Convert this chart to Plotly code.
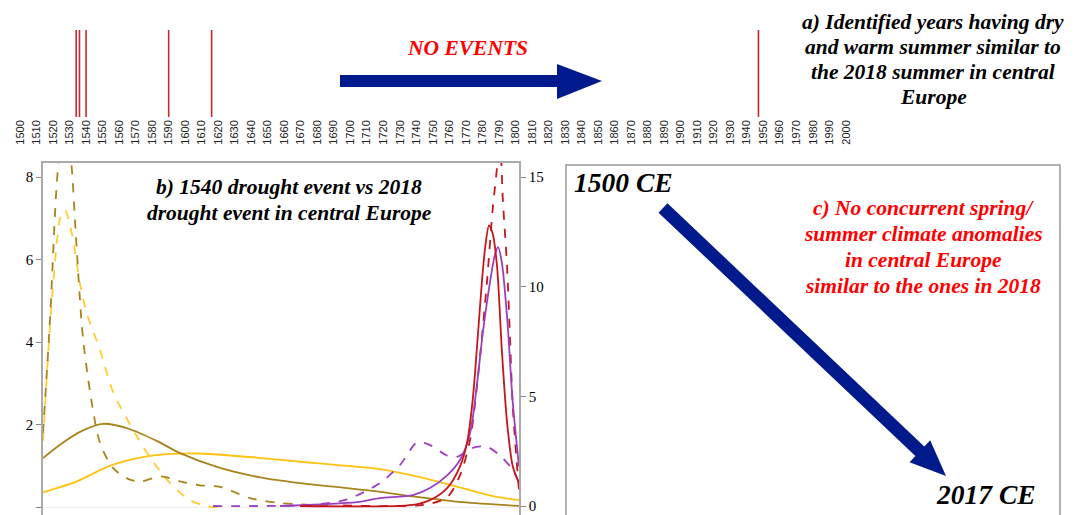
import math
import plotly.graph_objects as go

W, H = 1084, 515

# ---------------- data ----------------
decades = list(range(1500, 2001, 10))
event_years = [1534, 1536, 1540, 1590, 1616, 1947]

olive_solid_x = [0, 4, 8.4, 12.6, 18, 24, 28.8, 37.2, 45.6, 54, 63.9, 70.8, 77.7, 88.2, 100]
olive_solid_y = [1.19, 1.55, 1.86, 2.02, 1.9, 1.6, 1.31, 0.95, 0.72, 0.58, 0.46, 0.37, 0.26, 0.12, 0.03]

yellow_solid_x = [0, 7, 14, 20.4, 26.7, 33, 45, 54, 62, 70.8, 81.3, 88.2, 94.5, 100]
yellow_solid_y = [0.36, 0.62, 1.0, 1.2, 1.29, 1.3, 1.2, 1.1, 1.02, 0.92, 0.67, 0.46, 0.27, 0.17]

olive_dash_x = [0, 1.5, 2.9, 4.4, 5.9, 6.9, 8.4, 10.5, 12, 14.7, 18, 20.4, 23, 25.2, 29, 33, 37.2, 43.5, 49.8, 54, 60]
olive_dash_y = [1.8, 4.6, 7.85, 9.6, 8.4, 6.6, 4.1, 2.35, 1.55, 0.95, 0.68, 0.62, 0.7, 0.74, 0.62, 0.53, 0.49, 0.22, 0.1, 0.07, 0.03]

yellow_dash_x = [0, 1.5, 2.9, 3.6, 4.6, 6.1, 7.8, 9.2, 12, 14.7, 18.3, 22.5, 26.7, 30.9, 34.5, 37]
yellow_dash_y = [1.6, 4.45, 6.4, 7.0, 7.2, 6.6, 5.4, 4.7, 3.8, 2.8, 2.0, 1.2, 0.58, 0.17, 0.02, 0.0]

purple_dash_x = [35.7, 45, 56.7, 63.9, 70.8, 75, 78.6, 81.3, 84.9, 87, 90.3, 93.3, 96, 98.7, 100]
purple_dash_y = [0.0, 0.0, 0.05, 0.3, 1.05, 1.87, 2.9, 2.78, 2.3, 2.24, 2.65, 2.7, 2.3, 1.65, 1.05]

purple_solid_x = [49.8, 66, 70.8, 77.7, 81.3, 84.9, 87.6, 89.7, 91.2, 92.4, 93.9, 95, 95.6, 96.4, 97.5, 98.7, 100]
purple_solid_y = [0.0, 0.18, 0.36, 0.5, 0.82, 1.4, 2.1, 3.3, 5.6, 7.9, 10.2, 11.5, 11.8, 11.1, 8.6, 4.7, 1.8]

red_solid_x = [54, 77.7, 81.3, 84.9, 87.6, 89.1, 90.3, 91.4, 92.2, 92.9, 93.7, 94.5, 95.4, 96.4, 97.5, 98.7, 100]
red_solid_y = [0.0, 0.05, 0.27, 0.82, 1.8, 2.9, 4.9, 7.9, 10.2, 11.8, 12.8, 12.4, 10.9, 7.1, 3.8, 1.8, 1.05]

red_dash_x = [63, 79.8, 84.9, 87.6, 89.7, 91.8, 93.3, 94.5, 95.4, 95.9, 96.6, 97.5, 98.1, 98.7, 100]
red_dash_y = [0.03, 0.05, 0.4, 1.4, 3.0, 6.8, 10.3, 13.6, 15.5, 17.5, 14, 10.9, 7.7, 4.5, 0.7]

left_ticks = [0, 2, 4, 6, 8]
right_ticks = [0, 5, 10, 15]

text_a = ["a) Identified years having dry", "and warm summer similar to",
          "the 2018 summer in central", "Europe"]
text_b = ["b) 1540 drought event vs 2018", "drought event in central Europe"]
text_c = ["c) No concurrent spring/", "summer climate anomalies",
          "in central Europe", "similar to the ones in 2018"]

# ---------------- helpers ----------------
def px(x):
    return x / W

def py(y):
    return 1 - y / H

def path_from(points):
    return "M " + " L ".join(f"{px(x):.5f},{py(y):.5f}" for x, y in points) + " Z"

OLIVE = "#A8841C"
YELLOW = "#FFC20E"
YELLOW_D = "#FFCC33"
PURPLE = "#9B3FBF"
RED = "#C4161C"
NAVY = "#001A8C"
SERIF = "Liberation Serif"

fig = go.Figure()

# ---------------- panel a: timeline ----------------
ex, ey = [], []
for yr in event_years:
    ex += [yr, yr, None]
    ey += [0, 1, None]
fig.add_trace(go.Scatter(x=ex, y=ey, mode="lines", line=dict(color="#C8282D", width=1.6),
                         xaxis="x3", yaxis="y3", showlegend=False, hoverinfo="skip"))

# ---------------- panel b: curves ----------------
def add_curve(xs, ys, color, dash, axis_y):
    fig.add_trace(go.Scatter(x=xs, y=ys, mode="lines",
                             line=dict(color=color, width=1.8, dash=dash, shape="spline", smoothing=0.8),
                             xaxis="x", yaxis=axis_y, showlegend=False, hoverinfo="skip"))

add_curve(yellow_solid_x, yellow_solid_y, YELLOW, "solid", "y")
add_curve(olive_solid_x, olive_solid_y, OLIVE, "solid", "y")
add_curve(yellow_dash_x, yellow_dash_y, YELLOW_D, "dash", "y")
add_curve(olive_dash_x, olive_dash_y, OLIVE, "dash", "y")
add_curve(purple_dash_x, purple_dash_y, PURPLE, "dash", "y2")
add_curve(red_dash_x, red_dash_y, RED, "dash", "y2")
add_curve(purple_solid_x, purple_solid_y, PURPLE, "solid", "y2")
add_curve(red_solid_x, red_solid_y, RED, "solid", "y2")

fig.update_layout(
    width=W, height=H,
    margin=dict(l=0, r=0, t=0, b=0, autoexpand=False),
    paper_bgcolor="white", plot_bgcolor="white",
    showlegend=False,
    xaxis=dict(domain=[px(43), px(519)], range=[0, 100], side="top", showline=True, linecolor="#AAAAAA",
               linewidth=1.5, showticklabels=False, ticks="", showgrid=False, zeroline=False,
               anchor="y", automargin=False),
    yaxis=dict(domain=[0, py(163)], range=[-0.19, 8.34], showline=True, linecolor="#AAAAAA", linewidth=1.5,
               ticks="outside", ticklen=5, tickcolor="#888888", tickvals=left_ticks, showgrid=False,
               zeroline=True, zerolinecolor="#EEEEEE", zerolinewidth=1, automargin=False,
               tickfont=dict(family=SERIF, size=15, color="black"), anchor="x"),
    yaxis2=dict(overlaying="y", side="right", range=[-0.41, 15.64], showline=True, linecolor="#AAAAAA",
                linewidth=1.5, ticks="outside", ticklen=5, tickcolor="#888888", tickvals=right_ticks,
                showgrid=False, zeroline=False, automargin=False,
                tickfont=dict(family=SERIF, size=15, color="black"), anchor="x"),
    xaxis3=dict(domain=[0, 1], range=[1500 - 20 / 1.652, 1500 + (W - 20) / 1.652], tickvals=decades,
                tickangle=-90, tickfont=dict(family="Liberation Sans", size=11, color="#222222"),
                showline=False, ticks="", showgrid=False, zeroline=False, anchor="y3", automargin=False),
    yaxis3=dict(domain=[py(117), py(30)], range=[0, 1], visible=False, anchor="x3"),
)

# ---------------- arrows & frames ----------------
shapes = []
shapes.append(dict(type="path", xref="paper", yref="paper",
                   path=path_from([(340, 75), (557, 75), (557, 64), (602, 81), (557, 99), (557, 87), (340, 87)]),
                   fillcolor=NAVY, line=dict(width=0)))
S = (663, 208)
T = (946, 476)
dx, dy = T[0] - S[0], T[1] - S[1]
L = math.hypot(dx, dy)
ux, uy = dx / L, dy / L
nx, ny = -uy, ux
hw, hh, hl = 6.5, 15, 36
B = (T[0] - ux * hl, T[1] - uy * hl)
pts = [
    (S[0] + nx * hw, S[1] + ny * hw),
    (B[0] + nx * hw, B[1] + ny * hw),
    (B[0] + nx * hh, B[1] + ny * hh),
    T,
    (B[0] - nx * hh, B[1] - ny * hh),
    (B[0] - nx * hw, B[1] - ny * hw),
    (S[0] - nx * hw, S[1] - ny * hw),
]
shapes.append(dict(type="path", xref="paper", yref="paper", path=path_from(pts),
                   fillcolor=NAVY, line=dict(width=0)))
shapes.append(dict(type="rect", xref="paper", yref="paper", x0=px(566), x1=px(1060), y0=-0.05, y1=py(165),
                   line=dict(color="#999999", width=1.5), fillcolor="rgba(0,0,0,0)"))
fig.update_layout(shapes=shapes)

# ---------------- texts ----------------
def ann(text, x, y, size, color="black", xanchor="center"):
    fig.add_annotation(text=f"<b><i>{text}</i></b>", x=px(x), y=py(y), xref="paper", yref="paper",
                       showarrow=False, xanchor=xanchor, yanchor="middle", align="center",
                       font=dict(family=SERIF, size=size, color=color))

ann("NO EVENTS", 467, 48, 21.5, color="#FF0000")
for line, yy in zip(text_a, [22, 47, 72, 97]):
    ann(line, 933, yy, 21.5)
for line, yy in zip(text_b, [187, 213]):
    ann(line, 289, yy, 21.5)
for line, yy in zip(text_c, [208, 234, 260, 286]):
    ann(line, 923, yy, 21.5, color="#FF0000")
ann("1500 CE", 572, 182, 27.5, xanchor="left")
ann("2017 CE", 934, 494, 27.5, xanchor="left")

fig.write_html("out.html", config={"displayModeBar": False},
               post_script="document.body.style.margin='0px';document.body.style.overflow='hidden';")
